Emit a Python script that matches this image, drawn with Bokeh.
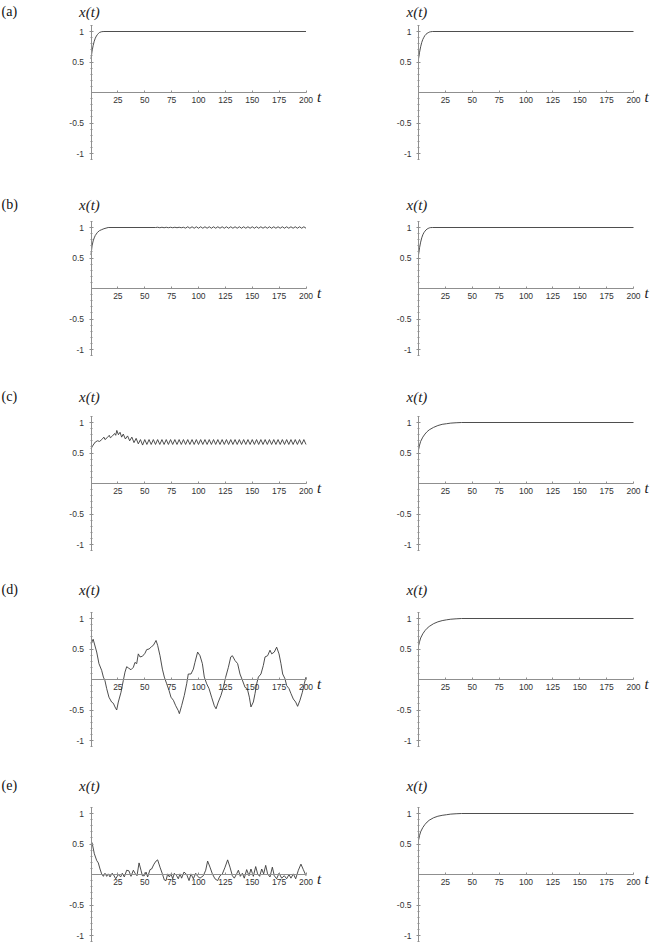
from bokeh.plotting import figure
from bokeh.models import Label, FixedTicker, Range1d
from bokeh.layouts import column, row
from bokeh.embed import file_html
from bokeh.resources import INLINE

# ---------------- data ----------------
A_L_T = [0, 1, 2, 3, 4, 5, 6, 7, 8, 10, 12, 200]
A_L_X = [0.55, 0.68, 0.77, 0.84, 0.89, 0.925, 0.95, 0.97, 0.985, 0.997, 1.0, 1.0]

A_R_T = [0, 1, 2, 3, 4, 5, 6, 7, 8, 9, 10, 11, 13, 200]
A_R_X = [0.55, 0.66, 0.75, 0.82, 0.87, 0.905, 0.935, 0.955, 0.97, 0.98, 0.99, 0.995, 1.0, 1.0]

B_L_T = [0, 1, 2, 3, 4, 6, 8, 10, 12, 14, 16, 60,
         62, 64, 66, 68, 70, 72, 74, 76, 78, 80, 82, 84, 86, 88,
         90, 92, 94, 96, 98, 100, 102, 104, 106, 108, 110, 112, 114, 116, 118, 120,
         122, 124, 126, 128, 130, 132, 134, 136, 138, 140, 142, 144, 146, 148, 150,
         152, 154, 156, 158, 160, 162, 164, 166, 168, 170, 172, 174, 176, 178, 180,
         182, 184, 186, 188, 190, 192, 194, 196, 198, 200]
B_L_X = [0.55, 0.70, 0.78, 0.83, 0.87, 0.92, 0.95, 0.965, 0.98, 0.99, 1.0, 1.0,
         1.004, 0.996, 1.004, 0.996, 1.004, 0.996, 1.004, 0.996, 1.004, 0.996, 1.004, 0.996, 1.004, 0.99,
         1.012, 0.988, 1.012, 0.988, 1.012, 0.988, 1.012, 0.988, 1.012, 0.988, 1.012, 0.988, 1.012, 0.988, 1.012, 0.988,
         1.012, 0.988, 1.012, 0.988, 1.012, 0.988, 1.012, 0.988, 1.012, 0.988, 1.012, 0.988, 1.012, 0.988, 1.012,
         0.988, 1.012, 0.988, 1.012, 0.988, 1.012, 0.988, 1.012, 0.988, 1.012, 0.988, 1.012, 0.988, 1.012, 0.988,
         1.012, 0.988, 1.012, 0.988, 1.012, 0.988, 1.012, 0.988, 1.012, 0.988]

B_R_T = [0, 1, 2, 3, 4, 5, 6, 7, 8, 9, 10, 11, 13, 200]
B_R_X = [0.55, 0.67, 0.76, 0.83, 0.88, 0.915, 0.94, 0.96, 0.975, 0.985, 0.993, 0.998, 1.0, 1.0]

C_L_T = [0, 2, 4, 6, 8, 10, 12, 13, 15, 17, 18, 20, 22, 23, 24, 25.5, 27, 28.5, 30, 32,
         34, 36, 38, 40, 42, 44, 46, 48,
         50, 52, 54, 56, 58, 60, 62, 64, 66, 68, 70, 72, 74, 76, 78, 80, 82, 84, 86, 88,
         90, 92, 94, 96, 98, 100, 102, 104, 106, 108, 110, 112, 114, 116, 118, 120,
         122, 124, 126, 128, 130, 132, 134, 136, 138, 140, 142, 144, 146, 148, 150,
         152, 154, 156, 158, 160, 162, 164, 166, 168, 170, 172, 174, 176, 178, 180,
         182, 184, 186, 188, 190, 192, 194, 196, 198, 200]
C_L_X = [0.57, 0.63, 0.68, 0.70, 0.69, 0.72, 0.76, 0.72, 0.75, 0.79, 0.75, 0.78, 0.82, 0.79, 0.87, 0.80, 0.84, 0.76, 0.81, 0.73,
         0.78, 0.70, 0.76, 0.67, 0.74, 0.65, 0.72, 0.63,
         0.72, 0.64, 0.72, 0.64, 0.72, 0.64, 0.72, 0.64, 0.72, 0.64, 0.72, 0.64, 0.72, 0.64, 0.72, 0.64, 0.72, 0.64, 0.72, 0.64,
         0.72, 0.64, 0.72, 0.64, 0.72, 0.64, 0.72, 0.64, 0.72, 0.64, 0.72, 0.64, 0.72, 0.64, 0.72, 0.64,
         0.72, 0.64, 0.72, 0.64, 0.72, 0.64, 0.72, 0.64, 0.72, 0.64, 0.72, 0.64, 0.72, 0.64, 0.72,
         0.64, 0.72, 0.64, 0.72, 0.64, 0.72, 0.64, 0.72, 0.64, 0.72, 0.64, 0.72, 0.64, 0.72, 0.64,
         0.72, 0.64, 0.72, 0.64, 0.72, 0.64, 0.72, 0.64, 0.72, 0.64]

C_R_T = [0, 1, 2, 4, 6, 8, 10, 14, 18, 22, 26, 30, 35, 40, 200]
C_R_X = [0.55, 0.63, 0.69, 0.76, 0.81, 0.85, 0.88, 0.92, 0.95, 0.97, 0.98, 0.99, 0.996, 1.0, 1.0]

D_L_T = [0, 2, 5.3, 7.4, 9.9, 11.5, 13, 14.6, 16.7, 19.2, 20.8, 22.3, 23.9, 25.4, 27.9, 30,
         31.6, 33.2, 34.7, 37.2, 39.4, 40.9, 42.5, 44, 45.6, 47.8, 50.2, 51.8, 54, 56.4, 58,
         60.5, 62, 64.2, 66.4, 68.2, 70.4, 72.6, 74.4, 76.6, 78.8, 81.2, 82.2, 84.3, 86.8, 89,
         90.5, 93, 95.2, 96.7, 99.2, 101.4, 103.6, 105.4, 107.6, 109.8, 112.2, 114.7, 116.3,
         118.4, 120.9, 123.1, 125.3, 127.8, 130, 131.5, 134, 136.4, 138.6, 140.8, 143.3, 145.4,
         147.3, 148.8, 151, 152.6, 154.1, 155.7, 158.1, 160.3, 161.9, 164.3, 166.5, 168.1, 170.5,
         172.7, 174.9, 176.7, 178.3, 180.5, 182, 184.2, 186, 188.2, 190.4, 192.2, 194.4, 196.6,
         198.4, 200]
D_L_X = [0.58, 0.66, 0.45, 0.26, 0.15, 0.04, -0.02, -0.15, -0.29, -0.37, -0.39, -0.45, -0.50, -0.37, -0.21, -0.02,
         0.12, 0.21, 0.19, 0.16, 0.20, 0.28, 0.26, 0.42, 0.37, 0.38, 0.43, 0.49, 0.50, 0.54, 0.56,
         0.64, 0.56, 0.39, 0.17, 0.04, -0.07, -0.18, -0.29, -0.34, -0.43, -0.51, -0.56, -0.43, -0.26, -0.07,
         0.09, 0.09, 0.17, 0.28, 0.45, 0.39, 0.26, 0.04, -0.07, -0.15, -0.29, -0.43, -0.48,
         -0.37, -0.26, -0.13, 0.04, 0.20, 0.37, 0.39, 0.31, 0.26, 0.09, -0.01, -0.13, -0.15,
         -0.29, -0.45, -0.37, -0.23, -0.07, 0.04, 0.09, 0.23, 0.37, 0.39, 0.48, 0.42, 0.45,
         0.53, 0.42, 0.26, 0.09, 0.01, -0.10, -0.15, -0.23, -0.32, -0.37, -0.44, -0.34, -0.21,
         -0.07, 0.04]

D_R_T = [0, 1, 2, 4, 6, 8, 10, 14, 18, 22, 26, 30, 35, 40, 200]
D_R_X = [0.55, 0.62, 0.68, 0.75, 0.80, 0.84, 0.87, 0.915, 0.945, 0.965, 0.978, 0.988, 0.995, 1.0, 1.0]

E_L_T = [0, 1, 3.1, 5.3, 6.8, 8.4, 9.9, 11.5, 13, 14.6, 16.1, 17.7, 19.6, 20.8, 23, 25.4,
         27.6, 29.1, 31, 33.2, 35.3, 37.2, 39.4, 41, 42.8, 44.7, 46.5, 47.8, 49.6, 51.2, 52.7,
         54.9, 56.4, 58.6, 60.5, 62, 64.2, 66.4, 68.2, 69.8, 71.3, 72.9, 74.4, 76, 77.5, 79.7,
         81.2, 82.8, 84.3, 86.5, 89, 91.2, 93, 95.2, 97.4, 99.2, 101.4, 104.5, 106.7, 108.5,
         110.7, 112.9, 115.3, 117.8, 120, 122.2, 124.7, 127.1, 129.3, 131.5, 133.3, 135.5,
         137.1, 138.9, 140.8, 142.6, 144.8, 147, 148.8, 151, 153.2, 155, 156.9, 158.8, 160.6,
         162.5, 164.3, 166.5, 168.7, 170.5, 172.7, 174.9, 177.4, 179.8, 182, 184.2, 186, 188.2,
         190.4, 192.9, 195.3, 197.5, 200]
E_L_X = [0.50, 0.52, 0.34, 0.23, 0.19, 0.09, 0.01, -0.03, 0.02, -0.03, 0.01, -0.04, 0.02, 0.0, -0.07, 0.0,
         -0.04, 0.02, -0.04, 0.07, 0.06, -0.03, 0.07, 0.02, -0.02, 0.19, 0.07, -0.02, -0.02, 0.04, -0.04,
         0.08, 0.09, 0.17, 0.22, 0.24, 0.12, 0.01, -0.09, -0.10, 0.01, -0.04, 0.01, -0.07, 0.02, -0.02,
         -0.07, 0.01, -0.06, 0.04, 0.0, -0.10, 0.01, -0.07, 0.02, -0.03, -0.06, -0.02, 0.07, 0.22,
         0.12, 0.01, -0.07, -0.10, -0.02, 0.01, 0.12, 0.24, 0.12, -0.02, -0.06, 0.01,
         0.07, -0.03, 0.02, -0.06, 0.08, -0.02, 0.09, -0.03, 0.13, 0.01, -0.03, 0.09, 0.01,
         0.15, 0.01, -0.04, 0.12, -0.02, -0.07, 0.02, -0.06, -0.02, -0.07, 0.0, -0.06, 0.01,
         -0.07, 0.07, 0.17, 0.08, -0.02]

E_R_T = [0, 1, 2, 4, 6, 8, 10, 14, 18, 22, 26, 30, 35, 40, 200]
E_R_X = [0.56, 0.64, 0.70, 0.77, 0.82, 0.86, 0.89, 0.93, 0.955, 0.97, 0.98, 0.99, 0.996, 1.0, 1.0]

PANEL_TAGS = ["(a)", "(b)", "(c)", "(d)", "(e)"]
X_TICKS = [25, 50, 75, 100, 125, 150, 175, 200]
Y_TICKS = [-1, -0.5, 0.5, 1]
Y_LABELS = {-1: "-1", -0.5: "-0.5", 0.5: "0.5", 1: "1"}
Y_MINOR = [-1.1, -1.0, -0.9, -0.8, -0.7, -0.6, -0.5, -0.4, -0.3, -0.2, -0.1,
           0.1, 0.2, 0.3, 0.4, 0.5, 0.6, 0.7, 0.8, 0.9, 1.0, 1.1]

SERIES = [
    [(A_L_T, A_L_X), (A_R_T, A_R_X)],
    [(B_L_T, B_L_X), (B_R_T, B_R_X)],
    [(C_L_T, C_L_X), (C_R_T, C_R_X)],
    [(D_L_T, D_L_X), (D_R_T, D_R_X)],
    [(E_L_T, E_L_X), (E_R_T, E_R_X)],
]

for r in SERIES:
    for t, x in r:
        assert len(t) == len(x), (len(t), len(x))

# ---------------- layout (pixels) ----------------
ROW_H = [190, 190, 195, 195, 180]
COL_W = [330, 332]
AXIS_X = [90.5, 88]               # frame x of t = 0
ZERO_Y = [92, 98, 103, 104, 104]  # frame y (from top) of x = 0
LABEL_DY = [20, 23, 26, 29, 28]   # x(t) label above the x = 1 tick
PX_T = 1.075                      # pixels per unit of t
PX_X = 61.0                       # pixels per unit of x

AXIS_COLOR = "#8f8f8f"
LINE_COLOR = "#3a3a3a"
TICK_FONT = "Liberation Sans"
SERIF = "'Liberation Serif', 'DejaVu Serif', serif"


def make_panel(t, x, w, h, ax, zy, dy, tag):
    xr = Range1d(-ax / PX_T, (w - ax) / PX_T)
    yr = Range1d(-(h - zy) / PX_X, zy / PX_X)
    p = figure(width=w, height=h, x_range=xr, y_range=yr, title=None,
               output_backend="svg", toolbar_location=None, min_border=0)
    p.outline_line_color = None
    p.grid.visible = False
    p.background_fill_color = "white"
    p.border_fill_color = "white"

    p.line(t, x, line_color=LINE_COLOR, line_width=0.9)

    xa = p.xaxis[0]
    xa.fixed_location = 0
    xa.bounds = (0, 200)
    xa.ticker = FixedTicker(ticks=X_TICKS, minor_ticks=[])
    xa.axis_line_color = AXIS_COLOR
    xa.axis_line_width = 1
    xa.major_tick_line_color = AXIS_COLOR
    xa.major_tick_in = 2
    xa.major_tick_out = 0
    xa.minor_tick_line_color = None
    xa.major_label_text_font = TICK_FONT
    xa.major_label_text_font_size = "8.5px"
    xa.major_label_text_color = "#333333"
    xa.major_label_standoff = 4

    ya = p.yaxis[0]
    ya.fixed_location = 0
    ya.bounds = (-1.1, 1.1)
    ya.ticker = FixedTicker(ticks=Y_TICKS, minor_ticks=Y_MINOR)
    ya.major_label_overrides = Y_LABELS
    ya.axis_line_color = AXIS_COLOR
    ya.axis_line_width = 1
    ya.major_tick_line_color = AXIS_COLOR
    ya.major_tick_in = 2
    ya.major_tick_out = 2
    ya.minor_tick_line_color = AXIS_COLOR
    ya.minor_tick_in = 1
    ya.minor_tick_out = 1
    ya.major_label_text_font = TICK_FONT
    ya.major_label_text_font_size = "8.5px"
    ya.major_label_text_color = "#333333"
    ya.major_label_standoff = 5

    p.add_layout(Label(x=0, y=1, x_offset=-12, y_offset=dy, text="x(t)",
                       text_font=SERIF, text_font_style="italic",
                       text_font_size="15px", text_color="#222222",
                       text_align="left", text_baseline="middle"))
    p.add_layout(Label(x=200, y=0, x_offset=11, y_offset=-4, text="t",
                       text_font=SERIF, text_font_style="italic",
                       text_font_size="15px", text_color="#222222",
                       text_align="left", text_baseline="middle"))
    if tag:
        p.add_layout(Label(x=1, y=1, x_units="screen", y_offset=dy, text=tag,
                           text_font=SERIF, text_font_size="14px",
                           text_color="#111111",
                           text_align="left", text_baseline="middle"))
    return p


rows = []
for i, pair in enumerate(SERIES):
    figs = []
    for j, (t, x) in enumerate(pair):
        figs.append(make_panel(t, x, COL_W[j], ROW_H[i], AXIS_X[j], ZERO_Y[i],
                               LABEL_DY[i], PANEL_TAGS[i] if j == 0 else None))
    rows.append(row(*figs))

layout = column(*rows)

open("out.html", "w").write(file_html(layout, INLINE))
